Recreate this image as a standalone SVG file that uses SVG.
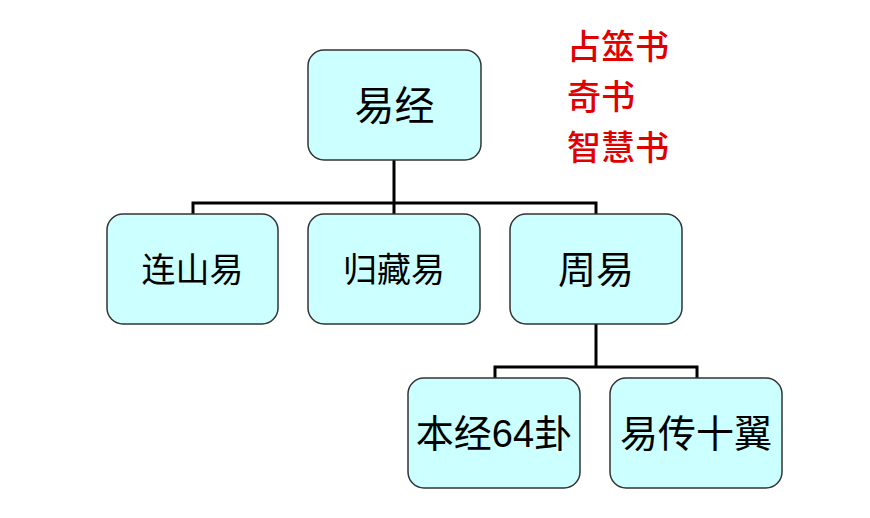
<svg xmlns="http://www.w3.org/2000/svg" width="870" height="518" viewBox="0 0 870 518">
<style>
.box{fill:#CCFFFF;stroke:#333333;stroke-width:1.5}
.lbl{font-family:"Liberation Sans","Noto Sans CJK SC",sans-serif;fill:#000;text-anchor:middle;dominant-baseline:central}
.red{font-family:"Noto Sans CJK SC",sans-serif;fill:#E00000;font-size:34px;font-weight:500}
.conn{fill:none;stroke:#000;stroke-width:3}
</style>
<rect width="870" height="518" fill="#fff"/>
<g id="connectors">
<path class="conn" d="M394 160V203M193 214V203H596V214M394 203V214"/>
<path class="conn" d="M596 324V367M495 378V367H697V378"/>
</g>
<g id="n-yijing"><rect class="box" x="308" y="50" width="173" height="110" rx="16"/><text class="lbl" x="394.5" y="106" font-size="40">易经</text></g>
<g id="n-lianshan"><rect class="box" x="107" y="214" width="171" height="110" rx="16"/><text class="lbl" x="192.5" y="270" font-size="34">连山易</text></g>
<g id="n-guicang"><rect class="box" x="308" y="214" width="172" height="110" rx="16"/><text class="lbl" x="394" y="270" font-size="34">归藏易</text></g>
<g id="n-zhouyi"><rect class="box" x="510" y="214" width="172" height="110" rx="16"/><text class="lbl" x="596" y="270" font-size="38">周易</text></g>
<g id="n-benjing"><rect class="box" x="408" y="378" width="172" height="110" rx="16"/><text class="lbl" x="494" y="434" font-size="38">本经64卦</text></g>
<g id="n-yizhuan"><rect class="box" x="610" y="378" width="172" height="110" rx="16"/><text class="lbl" x="696" y="434" font-size="38">易传十翼</text></g>
<g id="notes">
<text class="red" x="567" y="59">占筮书</text>
<text class="red" x="567" y="109">奇书</text>
<text class="red" x="567" y="160">智慧书</text>
</g>
</svg>
